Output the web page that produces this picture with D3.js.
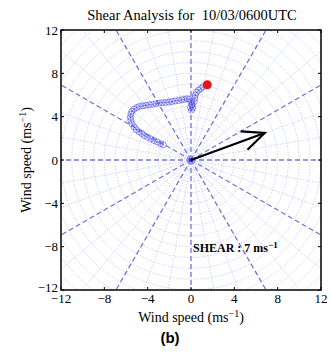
<!DOCTYPE html>
<html><head><meta charset="utf-8">
<script src="https://cdn.jsdelivr.net/npm/d3@7"></script>
<style>body{margin:0;background:#fff}svg{display:block}text{white-space:pre}</style>
</head><body>
<script>
const titleText = "Shear Analysis for  10/03/0600UTC";
const xTicks = [-12,-8,-4,0,4,8,12];
const yTicks = [-12,-8,-4,0,4,8,12];
const trackU = [-2.55,-2.8,-3.1,-3.4,-3.7,-4.0,-4.3,-4.55,-4.8,-5.05,-5.25,-5.45,-5.55,-5.6,-5.55,-5.45,-5.25,-5.0,-4.75,-4.45,-4.15,-3.85,-3.55,-3.25,-2.95,-2.65,-2.35,-2.05,-1.75,-1.45,-1.15,-0.85,-0.6,-0.35,-0.15,0.0,0.1,0.15,0.05,-0.05,0.1,0.3,0.35,0.4,0.5,0.7,0.9,1.1];
const trackV = [1.4,1.5,1.65,1.8,1.95,2.1,2.25,2.45,2.6,2.8,3.05,3.35,3.65,3.95,4.25,4.5,4.7,4.85,4.95,5.0,5.05,5.1,5.15,5.2,5.25,5.3,5.3,5.35,5.4,5.45,5.5,5.55,5.6,5.65,5.6,5.4,5.1,4.8,4.6,4.85,5.1,5.4,5.7,6.0,6.25,6.45,6.6,6.75];
const redPoint = [1.5, 6.95];
const shearVector = [6.8, 2.5];
const shearLabel = "SHEAR : 7 ms";
const ringRadii = d3.range(1, 18);
const fineAngles = d3.range(0, 360, 10);
const mainAngles = d3.range(0, 360, 30);

const W = 331, H = 353;
const L = 61, R = 321, T = 30, B = 290;
const svg = d3.select("body").append("svg").attr("width", W).attr("height", H);
const x = d3.scaleLinear().domain([-12, 12]).range([L, R]);
const y = d3.scaleLinear().domain([-12, 12]).range([B, T]);
const serif = "'Liberation Serif','Times New Roman',serif";

svg.append("defs").append("clipPath").attr("id","clip")
  .append("rect").attr("x",L).attr("y",T).attr("width",R-L).attr("height",B-T);
const g = svg.append("g").attr("clip-path","url(#clip)");

// rings
g.selectAll("circle.ring").data(ringRadii).join("circle")
  .attr("cx", x(0)).attr("cy", y(0)).attr("r", d => x(d) - x(0))
  .attr("fill","none").attr("stroke","#c2c8f4").attr("stroke-width",0.8)
  .attr("stroke-dasharray","1.5,1.5");
// fine radials
g.selectAll("line.fine").data(fineAngles.filter(a => a % 30 !== 0)).join("line")
  .attr("x1", x(0)).attr("y1", y(0))
  .attr("x2", a => x(20*Math.cos(a*Math.PI/180)))
  .attr("y2", a => y(20*Math.sin(a*Math.PI/180)))
  .attr("stroke","#c2c8f4").attr("stroke-width",0.8).attr("stroke-dasharray","1.5,1.5");
// main radials
g.selectAll("line.main").data(mainAngles).join("line")
  .attr("x1", x(0)).attr("y1", y(0))
  .attr("x2", a => x(20*Math.cos(a*Math.PI/180)))
  .attr("y2", a => y(20*Math.sin(a*Math.PI/180)))
  .attr("stroke","#7474d8").attr("stroke-width",1.3).attr("stroke-dasharray","5,3");

// track
const pts = trackU.map((u,i) => [u, trackV[i]]);
g.append("path").datum(pts)
  .attr("d", d3.line().x(d => x(d[0])).y(d => y(d[1])).curve(d3.curveCatmullRom))
  .attr("fill","none").attr("stroke","#4a4ae0").attr("stroke-width",0.7);
g.selectAll("circle.pt").data(pts).join("circle")
  .attr("cx", d => x(d[0])).attr("cy", d => y(d[1])).attr("r", 3)
  .attr("fill","none").attr("stroke","#4646e2").attr("stroke-opacity",0.75).attr("stroke-width",0.8);
g.append("circle").attr("cx", x(redPoint[0])).attr("cy", y(redPoint[1])).attr("r", 4.5)
  .attr("fill","#e8141b");
g.append("circle").attr("cx", x(0)).attr("cy", y(0)).attr("r", 2).attr("fill","#2222dd");

// shear arrow
const tipX = x(shearVector[0]), tipY = y(shearVector[1]);
const ang = Math.atan2(tipY - y(0), tipX - x(0));
const hl = 24, ha = 0.42;
g.append("line").attr("x1", x(0)).attr("y1", y(0)).attr("x2", tipX).attr("y2", tipY)
  .attr("stroke","#000").attr("stroke-width",2.2);
g.append("path")
  .attr("d", `M${tipX - hl*Math.cos(ang-ha)},${tipY - hl*Math.sin(ang-ha)} L${tipX},${tipY} L${tipX - hl*Math.cos(ang+ha)},${tipY - hl*Math.sin(ang+ha)}`)
  .attr("fill","none").attr("stroke","#000").attr("stroke-width",2.2).attr("stroke-linejoin","miter");

// frame
svg.append("rect").attr("x",L).attr("y",T).attr("width",R-L).attr("height",B-T)
  .attr("fill","none").attr("stroke","#000").attr("stroke-width",1.5);

// ticks
const tl = 3;
xTicks.forEach(t => {
  svg.append("line").attr("x1",x(t)).attr("x2",x(t)).attr("y1",B).attr("y2",B-tl).attr("stroke","#000");
  svg.append("line").attr("x1",x(t)).attr("x2",x(t)).attr("y1",T).attr("y2",T+tl).attr("stroke","#000");
});
yTicks.forEach(t => {
  svg.append("line").attr("y1",y(t)).attr("y2",y(t)).attr("x1",L).attr("x2",L+tl).attr("stroke","#000");
  svg.append("line").attr("y1",y(t)).attr("y2",y(t)).attr("x1",R).attr("x2",R-tl).attr("stroke","#000");
});
const fmt = v => v < 0 ? "\u2212" + Math.abs(v) : String(v);
svg.selectAll("text.xt").data(xTicks).join("text")
  .attr("x", d => x(d)).attr("y", 303).attr("text-anchor","middle")
  .attr("font-family", serif).attr("font-size", 13).text(fmt);
svg.selectAll("text.yt").data(yTicks).join("text")
  .attr("x", 58).attr("y", d => y(d) + (d === -12 ? 2 : 4.5)).attr("text-anchor","end")
  .attr("font-family", serif).attr("font-size", 13).text(fmt);

// title
svg.append("text").attr("x", 192).attr("y", 20).attr("text-anchor","middle")
  .attr("font-family", serif).attr("font-size", 14.5).text(titleText);

// axis titles
const xl = svg.append("text").attr("x", 191).attr("y", 322).attr("text-anchor","middle")
  .attr("font-family", serif).attr("font-size", 14);
xl.append("tspan").text("Wind speed (ms");
xl.append("tspan").attr("dy",-5).attr("font-size",10).text("\u22121");
xl.append("tspan").attr("dy",5).text(")");
const yl = svg.append("text").attr("transform","translate(31,160) rotate(-90)").attr("text-anchor","middle")
  .attr("font-family", serif).attr("font-size", 14);
yl.append("tspan").text("Wind speed (ms");
yl.append("tspan").attr("dy",-5).attr("font-size",10).text("\u22121");
yl.append("tspan").attr("dy",5).text(")");

// shear label
const sl = svg.append("text").attr("x", 193).attr("y", 252)
  .attr("font-family", serif).attr("font-size", 12).attr("font-weight","bold");
sl.append("tspan").text(shearLabel);
sl.append("tspan").attr("dy",-4).attr("font-size",9).text("\u22121");

svg.append("text").attr("x", 170).attr("y", 343).attr("text-anchor","middle")
  .attr("font-family","'Liberation Sans',Arial,sans-serif").attr("font-size",15).attr("font-weight","bold")
  .text("(b)");
</script>
</body></html>
